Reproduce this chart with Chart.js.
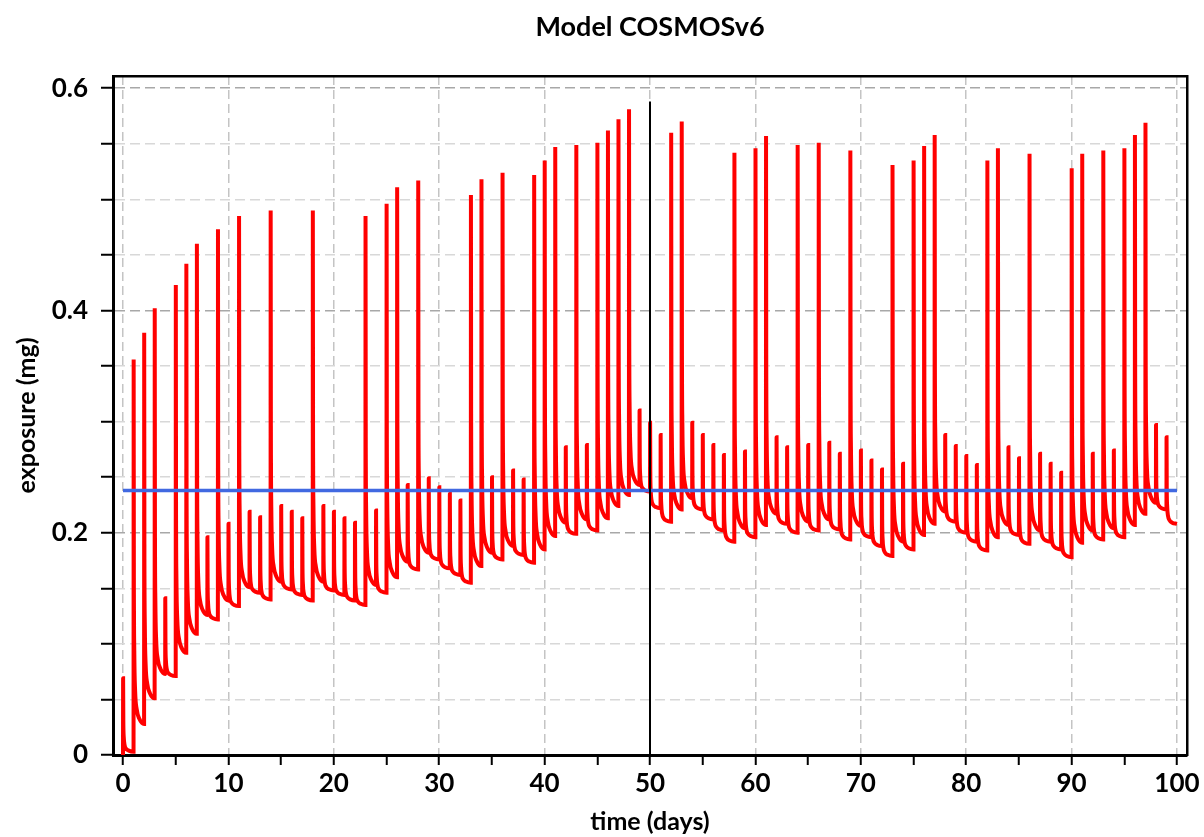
<!DOCTYPE html>
<html><head><meta charset="utf-8">
<script src="https://cdn.jsdelivr.net/npm/chart.js@4.4.1/dist/chart.umd.min.js"></script>
<style>html,body{margin:0;padding:0;background:#fff;}canvas{display:block;}</style>
</head><body>
<canvas id="c" width="1204" height="837"></canvas>
<script>
// ---- data ----
const doseDays = [0,1,2,3,4,5,6,7,8,9,10,11,12,13,14,15,16,17,18,19,20,21,22,23,24,25,26,27,28,29,30,31,32,33,34,35,36,37,38,39,40,41,42,43,44,45,46,47,48,49,50,51,52,53,54,55,56,57,58,59,60,61,62,63,64,65,66,67,68,69,70,71,72,73,74,75,76,77,78,79,80,81,82,83,84,85,86,87,88,89,90,91,92,93,94,95,96,97,98,99];
// exposure peak right after each daily dose (mg)
const peakValues = [0.069,0.356,0.380,0.402,0.141,0.423,0.442,0.460,0.196,0.473,
  0.208,0.485,0.219,0.214,0.490,0.224,0.219,0.213,0.490,0.224,
  0.219,0.213,0.209,0.485,0.220,0.496,0.511,0.243,0.517,0.249,
  0.241,0.235,0.229,0.504,0.518,0.250,0.524,0.256,0.248,0.522,
  0.535,0.547,0.277,0.549,0.279,0.551,0.562,0.572,0.581,0.310,
  0.299,0.288,0.560,0.570,0.299,0.288,0.279,0.270,0.542,0.273,
  0.546,0.557,0.286,0.277,0.549,0.279,0.551,0.281,0.271,0.544,
  0.274,0.265,0.257,0.531,0.262,0.535,0.548,0.558,0.288,0.278,
  0.269,0.261,0.535,0.546,0.277,0.267,0.541,0.271,0.262,0.254,
  0.528,0.541,0.271,0.544,0.274,0.546,0.558,0.569,0.297,0.286];
// exposure just before each dose, day 0..100 (mg)
const troughValues = [0.000,0.003,0.028,0.051,0.073,0.071,0.092,0.109,0.126,0.122,
  0.139,0.134,0.151,0.146,0.140,0.156,0.149,0.144,0.139,0.156,
  0.148,0.144,0.139,0.135,0.153,0.146,0.160,0.174,0.167,0.182,
  0.176,0.168,0.162,0.155,0.170,0.182,0.176,0.188,0.180,0.173,
  0.185,0.197,0.209,0.199,0.212,0.202,0.213,0.224,0.234,0.243,
  0.237,0.222,0.210,0.221,0.231,0.221,0.212,0.202,0.192,0.204,
  0.196,0.207,0.217,0.208,0.200,0.210,0.202,0.212,0.203,0.194,
  0.206,0.196,0.188,0.179,0.192,0.185,0.198,0.208,0.219,0.210,
  0.200,0.192,0.184,0.196,0.207,0.198,0.190,0.202,0.192,0.185,
  0.178,0.191,0.202,0.194,0.204,0.196,0.207,0.217,0.227,0.221,
  0.208];
// shape of one decay cycle: [day fraction, share of (peak - next trough) left]
const decayProfile = [[0.03,0.42],[0.07,0.20],[0.15,0.09],[0.30,0.04],[0.55,0.014]];
const targetLevel = 0.238, targetStart = 0, targetEnd = 100;
const markerDay = 50, markerTop = 0.588;
const xTickLabels = ['0','10','20','30','40','50','60','70','80','90','100'];
const yTickLabels = ['0','0.2','0.4','0.6'];

// ---- build line points ----
const exposurePts = [];
doseDays.forEach((d, i) => {
  const next = troughValues[i + 1];
  exposurePts.push({x: d, y: troughValues[i]});
  exposurePts.push({x: d + 0.01, y: peakValues[i]});
  decayProfile.forEach(([t, f]) => exposurePts.push({x: d + t, y: next + f * (peakValues[i] - next)}));
});
exposurePts.push({x: 100, y: troughValues[100]});

const FONT = 'Lato';
Chart.defaults.font.family = FONT;
Chart.defaults.font.weight = 'bold';
Chart.defaults.color = '#000';

const isMajorY = v => Math.abs(v * 5 - Math.round(v * 5)) < 1e-6;

new Chart(document.getElementById('c'), {
  type: 'line',
  data: {
    datasets: [
      {data: [{x: markerDay, y: 0}, {x: markerDay, y: markerTop}], borderColor: '#000', borderWidth: 2, pointRadius: 0, xAxisID: 'x', yAxisID: 'y'},
      {data: [{x: targetStart, y: targetLevel}, {x: targetEnd, y: targetLevel}], borderColor: '#4169E1', borderWidth: 3.5, pointRadius: 0, xAxisID: 'x', yAxisID: 'y'},
      {data: exposurePts, borderColor: '#FF0000', borderWidth: 4, pointRadius: 0, cubicInterpolationMode: 'monotone', xAxisID: 'x', yAxisID: 'y'}
    ]
  },
  options: {
    responsive: false, animation: false, devicePixelRatio: 1,
    parsing: false, normalized: true,
    layout: {padding: 0},
    plugins: {legend: {display: false}, tooltip: {enabled: false}, title: {display: false}},
    scales: {
      x: {
        type: 'linear', position: 'bottom', min: -0.95, max: 100.95,
        ticks: {stepSize: 5, includeBounds: false, autoSkip: false, maxRotation: 0, padding: 3,
          font: {size: 26, weight: 'bold'}, color: '#000',
          callback: v => (Math.round(v) % 10 === 0) ? xTickLabels[Math.round(v) / 10] : ''},
        grid: {color: c => (c.tick && Math.round(c.tick.value) % 10 === 0) ? '#c4c4c4' : 'rgba(0,0,0,0)',
          lineWidth: 1.5, tickColor: '#000', tickWidth: 2, tickLength: 10},
        border: {display: true, color: '#000', width: 3, dash: [9, 5]},
        title: {display: true, text: 'time (days)', font: {size: 25, weight: 'bold'}, color: '#000', padding: {top: 0, bottom: 0}},
        afterFit: s => { s.height = 82; }
      },
      y: {
        type: 'linear', position: 'left', min: 0, max: 0.611,
        ticks: {stepSize: 0.05, includeBounds: false, autoSkip: false, padding: 13,
          font: {size: 26, weight: 'bold'}, color: '#000',
          callback: v => isMajorY(v) ? yTickLabels[Math.round(v * 5)] : ''},
        grid: {color: c => (c.tick && isMajorY(c.tick.value)) ? '#a8a8a8' : '#d8d8d8',
          lineWidth: 1.5, tickColor: '#000', tickWidth: 2, tickLength: 12},
        border: {display: true, color: '#000', width: 3, dash: [10, 5]},
        title: {display: true, text: 'exposure (mg)', font: {size: 25, weight: 'bold'}, color: '#000', padding: {top: 12, bottom: 0}},
        afterFit: s => { s.width = 113; }
      },
      x2: {
        type: 'linear', position: 'top', min: -0.95, max: 100.95,
        ticks: {display: false}, grid: {display: false, drawTicks: false},
        border: {display: true, color: '#000', width: 2.5},
        title: {display: true, text: 'Model COSMOSv6', font: {size: 27, weight: 'bold'}, color: '#000', padding: {top: 11, bottom: 0}},
        afterFit: s => { s.height = 76; }
      },
      y2: {
        type: 'linear', position: 'right', min: 0, max: 0.611,
        ticks: {display: false}, grid: {display: false, drawTicks: false},
        border: {display: true, color: '#000', width: 2.5},
        afterFit: s => { s.width = 17; }
      }
    }
  }
});
</script>
</body></html>
